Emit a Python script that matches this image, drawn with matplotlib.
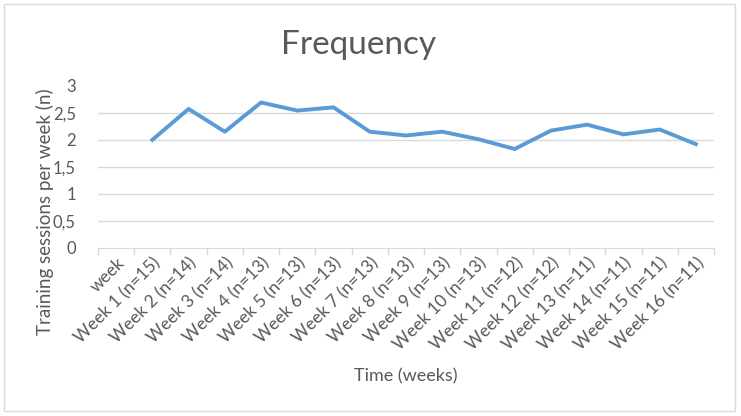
import numpy as np
import matplotlib.pyplot as plt

categories = ['week'] + ['Week %d (n=%d)' % (w, n) for w, n in zip(
    range(1, 17), [15, 14, 14, 13, 13, 13, 13, 13, 13, 13, 12, 12, 11, 11, 11, 11])]
sessions = [np.nan, 2.00, 2.57, 2.15, 2.69, 2.54, 2.60, 2.15, 2.08, 2.15,
            2.01, 1.83, 2.17, 2.28, 2.10, 2.19, 1.92]
yticks = [0, 0.5, 1, 1.5, 2, 2.5, 3]
ytick_labels = ['0', '0,5', '1', '1,5', '2', '2,5', '3']

plt.rcParams['font.family'] = ['Lato', 'DejaVu Sans']
txt = '#595959'
grid = '#D9D9D9'

fig = plt.figure(figsize=(7.41, 4.16), dpi=100)
ax = fig.add_axes([98 / 741, 1 - 248 / 416, 616 / 741, (248 - 85.7) / 416])

x = np.arange(len(categories))
ax.plot(x, sessions, color='#5B9BD5', lw=2.8, solid_joinstyle='round')

ax.set_xlim(-0.5, len(categories) - 0.5)
ax.set_ylim(0, 3)
ax.set_yticks(yticks)
ax.set_yticklabels(ytick_labels, color=txt, fontsize=12)
ax.tick_params(axis='y', length=0, pad=16)
for v in yticks[1:-1]:
    ax.axhline(v, color=grid, lw=1, zorder=0)

ax.set_xticks(x)
ax.set_xticklabels(categories, rotation=45, ha='right', va='top',
                   rotation_mode='anchor', color=txt, fontsize=12.5)
ax.set_xticks(np.arange(len(categories) + 1) - 0.5, minor=True)
ax.tick_params(axis='x', which='major', length=0, pad=5)
ax.tick_params(axis='x', which='minor', length=5, color=grid, width=1)

for s in ['top', 'right', 'left']:
    ax.spines[s].set_visible(False)
ax.spines['bottom'].set_color(grid)

fig.text(45 / 741, 1 - 212 / 416, 'Training sessions per week (n)', color=txt,
         fontsize=13.5, rotation=90, ha='center', va='center')
fig.text(406 / 741, 1 - 376 / 416, 'Time (weeks)', color=txt, fontsize=13,
         ha='center', va='center')
fig.text(359 / 741, 1 - 45 / 416, 'Frequency', color=txt, fontsize=24,
         ha='center', va='center')

fig.patches.append(plt.Rectangle((4 / 741, 5 / 416), 731 / 741, 407 / 416,
                                 transform=fig.transFigure, fill=False,
                                 edgecolor=grid, lw=1))

fig.savefig('out.png', dpi=100)
